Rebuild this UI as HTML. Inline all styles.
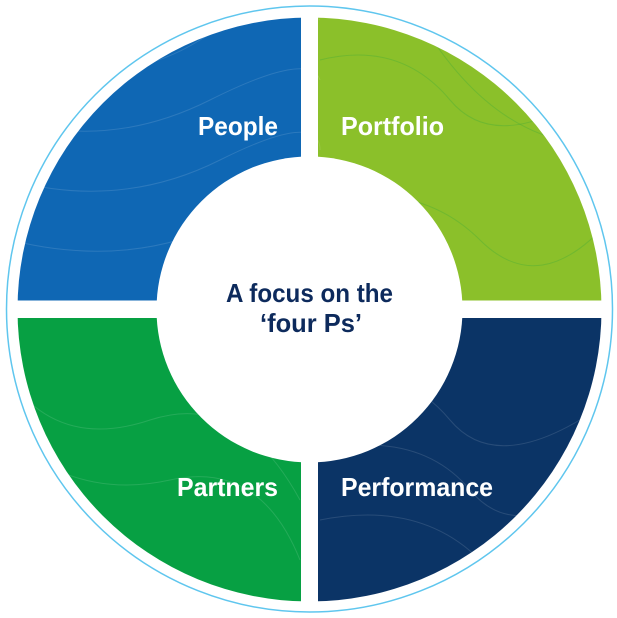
<!DOCTYPE html>
<html><head><meta charset="utf-8"><style>
html,body{margin:0;padding:0;background:#fff;}
svg{display:block;}
text{font-family:"Liberation Sans",sans-serif;font-weight:bold;}
</style></head><body>
<svg width="617" height="618" viewBox="0 0 617 618" xmlns="http://www.w3.org/2000/svg">
<defs>
<mask id="ring">
<rect width="617" height="618" fill="#000"/>
<circle cx="309.5" cy="309.5" r="292" fill="#fff"/>
<circle cx="309.5" cy="309.5" r="153" fill="#000"/>
<rect x="301" y="0" width="17" height="618" fill="#000"/>
<rect x="0" y="300.5" width="617" height="17.5" fill="#000"/>
</mask>
</defs>
<circle cx="309.5" cy="309" r="303" fill="none" stroke="#5fc6ee" stroke-width="1.5"/>
<g mask="url(#ring)">
<rect x="0" y="0" width="309.5" height="309" fill="#0f67b4"/>
<rect x="309.5" y="0" width="308" height="309" fill="#8bc02a"/>
<rect x="0" y="309" width="309.5" height="309" fill="#07a043"/>
<rect x="309.5" y="309" width="308" height="309" fill="#0b3466"/>
<g fill="none" stroke="#ffffff" stroke-opacity="0.12" stroke-width="1">
<path d="M20 60 Q120 90 200 40 T320 20"/><path d="M10 120 Q110 150 210 100 T320 80"/>
<path d="M10 180 Q120 210 220 160 T320 150"/><path d="M10 240 Q130 270 230 220 T320 210"/>
<path d="M10 380 Q60 450 150 420 T300 500"/><path d="M10 440 Q80 500 170 480 T300 560"/>
<path d="M320 380 Q400 360 450 420 T610 400"/><path d="M320 450 Q420 430 470 490 T610 470"/>
<path d="M320 520 Q420 500 480 560 T610 540"/>
</g>
<g fill="none" stroke="#3ea83a" stroke-opacity="0.35" stroke-width="1">
<path d="M320 60 Q400 40 450 100 T610 80"/><path d="M320 200 Q420 180 480 240 T610 220"/>
<path d="M420 20 Q480 120 560 140 T610 280"/>
</g>
</g>
<text x="198" y="135" font-size="26" fill="#fff" textLength="80" lengthAdjust="spacingAndGlyphs">People</text>
<text x="341" y="135" font-size="26" fill="#fff" textLength="103" lengthAdjust="spacingAndGlyphs">Portfolio</text>
<text x="177" y="496" font-size="26" fill="#fff" textLength="101" lengthAdjust="spacingAndGlyphs">Partners</text>
<text x="341" y="496" font-size="26" fill="#fff" textLength="152" lengthAdjust="spacingAndGlyphs">Performance</text>
<text x="226" y="302" font-size="26" fill="#0d2a5c" textLength="167" lengthAdjust="spacingAndGlyphs">A focus on the</text>
<text x="260" y="332" font-size="26" fill="#0d2a5c" textLength="102" lengthAdjust="spacingAndGlyphs">‘four Ps’</text>
</svg>
</body></html>
